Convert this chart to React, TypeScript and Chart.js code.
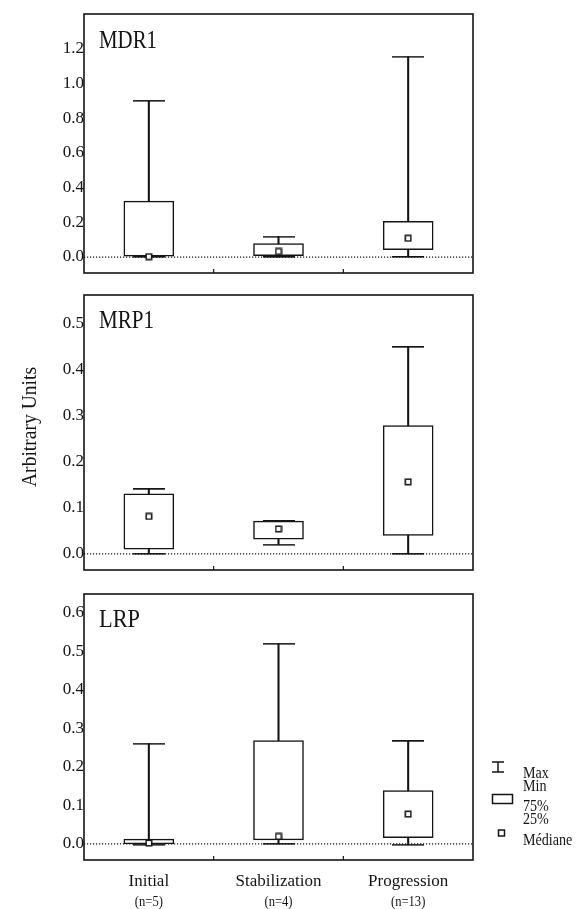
import React, { useEffect, useRef } from 'react';
import { Chart, registerables } from 'chart.js';

Chart.register(...registerables);

const CATEGORIES = ['Initial', 'Stabilization', 'Progression'];
const GROUP_SIZES = ['(n=5)', '(n=4)', '(n=13)'];

const MDR1_MIN = [0, 0, 0];
const MDR1_Q1 = [0.005, 0.008, 0.042];
const MDR1_MEDIAN = [0.002, 0.032, 0.108];
const MDR1_Q3 = [0.322, 0.078, 0.205];
const MDR1_MAX = [0.9, 0.118, 1.155];
const MDR1_TICKS = [0, 0.2, 0.4, 0.6, 0.8, 1.0, 1.2];

const MRP1_MIN = [0, 0.02, 0];
const MRP1_Q1 = [0.01, 0.032, 0.04];
const MRP1_MEDIAN = [0.081, 0.054, 0.156];
const MRP1_Q3 = [0.13, 0.071, 0.278];
const MRP1_MAX = [0.14, 0.071, 0.448];
const MRP1_TICKS = [0, 0.1, 0.2, 0.3, 0.4, 0.5];

const LRP_MIN = [-0.002, 0, -0.002];
const LRP_Q1 = [0, 0.01, 0.016];
const LRP_MEDIAN = [0.002, 0.019, 0.077];
const LRP_Q3 = [0.012, 0.268, 0.138];
const LRP_MAX = [0.26, 0.519, 0.266];
const LRP_TICKS = [0, 0.1, 0.2, 0.3, 0.4, 0.5, 0.6];

const Y_TITLE = 'Arbitrary Units';
const LEGEND_LABELS = ['Max', 'Min', '75%', '25%', 'Médiane'];

const INK = '#141414';
const FONT = '"Liberation Serif", "Times New Roman", serif';

type Panel = {
  label: string;
  min: number[]; q1: number[]; med: number[]; q3: number[]; max: number[];
  ticks: number[]; yMin: number; yMax: number;
  top: number; height: number; padTop: number; padBottom: number;
  showX: boolean; labelBaseline: number; labelWidth: number;
  yTitle?: boolean; legend?: boolean;
};

const PANELS: Panel[] = [
  { label: 'MDR1', min: MDR1_MIN, q1: MDR1_Q1, med: MDR1_MEDIAN, q3: MDR1_Q3, max: MDR1_MAX,
    ticks: MDR1_TICKS, yMin: -0.092, yMax: 1.40, top: 0, height: 290, padTop: 14, padBottom: 17,
    showX: false, labelBaseline: 48, labelWidth: 58 },
  { label: 'MRP1', min: MRP1_MIN, q1: MRP1_Q1, med: MRP1_MEDIAN, q3: MRP1_Q3, max: MRP1_MAX,
    ticks: MRP1_TICKS, yMin: -0.035, yMax: 0.561, top: 285, height: 290, padTop: 10, padBottom: 5,
    showX: false, labelBaseline: 43, labelWidth: 55, yTitle: true },
  { label: 'LRP', min: LRP_MIN, q1: LRP_Q1, med: LRP_MEDIAN, q3: LRP_Q3, max: LRP_MAX,
    ticks: LRP_TICKS, yMin: -0.042, yMax: 0.648, top: 580, height: 329, padTop: 14, padBottom: 9,
    showX: true, labelBaseline: 47, labelWidth: 41, legend: true },
];

function makeCapImage() {
  const c = document.createElement('canvas');
  c.width = 32; c.height = 2;
  const g = c.getContext('2d')!;
  g.fillStyle = INK;
  g.fillRect(0, 0, 32, 1.6);
  return c;
}

function makeMedianImage() {
  const c = document.createElement('canvas');
  c.width = 8; c.height = 8;
  const g = c.getContext('2d')!;
  g.fillStyle = '#ffffff';
  g.fillRect(1, 1, 6, 6);
  g.strokeStyle = INK;
  g.lineWidth = 1.5;
  g.strokeRect(1.25, 1.25, 5.5, 5.5);
  return c;
}

function drawText(ctx: CanvasRenderingContext2D, text: string, x: number, y: number, size: number,
  sx: number, align: CanvasTextAlign, baseline: CanvasTextBaseline = 'alphabetic', rot = 0) {
  ctx.save();
  ctx.font = `${size}px ${FONT}`;
  ctx.fillStyle = INK;
  ctx.textAlign = align;
  ctx.textBaseline = baseline;
  ctx.translate(x, y);
  if (rot) ctx.rotate(rot);
  ctx.scale(sx, 1);
  ctx.fillText(text, 0, 0);
  ctx.restore();
}

function fitScale(ctx: CanvasRenderingContext2D, text: string, size: number, width: number) {
  ctx.save();
  ctx.font = `${size}px ${FONT}`;
  const w = ctx.measureText(text).width;
  ctx.restore();
  return w > 0 ? width / w : 1;
}

function makePlugin(p: Panel) {
  return {
    id: 'panelDecor',
    beforeDatasetsDraw(chart: any) {
      const { ctx, chartArea: a, scales } = chart;
      const y0 = scales.y.getPixelForValue(0);
      ctx.save();
      ctx.strokeStyle = INK;
      ctx.lineWidth = 1.2;
      ctx.setLineDash([1.2, 1.8]);
      ctx.beginPath();
      ctx.moveTo(a.left, y0);
      ctx.lineTo(a.right, y0);
      ctx.stroke();
      ctx.restore();
    },
    afterDraw(chart: any) {
      const { ctx, chartArea: a, scales } = chart;
      ctx.save();
      ctx.strokeStyle = INK;
      ctx.lineWidth = 1.6;
      ctx.strokeRect(a.left, a.top, a.right - a.left, a.bottom - a.top);
      ctx.lineWidth = 1.2;
      for (let i = 0; i < CATEGORIES.length - 1; i++) {
        const x = scales.x.getPixelForValue(i + 0.5);
        ctx.beginPath();
        ctx.moveTo(x, a.bottom);
        ctx.lineTo(x, a.bottom - 4);
        ctx.stroke();
      }
      ctx.restore();

      const sx = fitScale(ctx, p.label, 26, p.labelWidth);
      drawText(ctx, p.label, a.left + 15, p.labelBaseline, 26, sx, 'left');

      if (p.yTitle) {
        const s = fitScale(ctx, Y_TITLE, 22, 120);
        drawText(ctx, Y_TITLE, 30, 427 - p.top, 22, s, 'center', 'middle', -Math.PI / 2);
      }

      if (p.showX) {
        GROUP_SIZES.forEach((t, i) => {
          const x = scales.x.getPixelForValue(i);
          drawText(ctx, t, x, 902 - p.top, 14, 0.9, 'center', 'middle');
        });
      }

      if (p.legend) {
        const o = p.top;
        ctx.save();
        ctx.strokeStyle = INK;
        ctx.lineWidth = 1.5;
        ctx.beginPath();
        ctx.moveTo(492, 762 - o); ctx.lineTo(504, 762 - o);
        ctx.moveTo(498, 762 - o); ctx.lineTo(498, 772 - o);
        ctx.moveTo(492, 772 - o); ctx.lineTo(504, 772 - o);
        ctx.stroke();
        ctx.strokeRect(492.5, 794.5 - o, 20, 9);
        ctx.fillStyle = '#fff';
        ctx.fillRect(498.5, 830 - o, 6, 6);
        ctx.strokeRect(498.5, 830 - o, 6, 6);
        ctx.restore();
        const baselines = [778, 791, 811, 824, 845];
        LEGEND_LABELS.forEach((t, i) => {
          drawText(ctx, t, 523, baselines[i] - o, 16, 0.88, 'left');
        });
      }
    },
  };
}

function buildConfig(p: Panel, capImg: HTMLCanvasElement, medImg: HTMLCanvasElement): any {
  const boxes = p.q1.map((v, i) => [v, p.q3[i]]);
  const whiskers = p.min.map((v, i) => [v, p.max[i]]);
  return {
    type: 'bar',
    data: {
      labels: CATEGORIES,
      datasets: [
        { type: 'bar', data: whiskers, backgroundColor: INK, borderWidth: 0,
          barThickness: 1.4, grouped: false, order: 3 },
        { type: 'bar', data: boxes, backgroundColor: '#ffffff', borderColor: INK, borderWidth: 1.5,
          borderSkipped: false, barThickness: 50, grouped: false, order: 2 },
        { type: 'line', data: p.max, showLine: false, pointStyle: capImg, pointRadius: 1,
          pointHoverRadius: 1, pointBorderWidth: 0, borderWidth: 0, order: 1, clip: false },
        { type: 'line', data: p.min, showLine: false, pointStyle: capImg, pointRadius: 1,
          pointHoverRadius: 1, pointBorderWidth: 0, borderWidth: 0, order: 1, clip: false },
        { type: 'line', data: p.med, showLine: false, pointStyle: medImg, pointRadius: 1,
          pointHoverRadius: 1, pointBorderWidth: 0, borderWidth: 0, order: 0, clip: false },
      ],
    },
    options: {
      responsive: false,
      maintainAspectRatio: false,
      animation: false,
      events: [],
      layout: { padding: { left: 0, right: 587 - 473, top: p.padTop, bottom: p.padBottom } },
      plugins: { legend: { display: false }, tooltip: { enabled: false }, title: { display: false } },
      scales: {
        x: {
          type: 'category',
          display: p.showX,
          offset: true,
          grid: { display: false, drawTicks: false },
          border: { display: false },
          ticks: { color: INK, font: { family: FONT, size: 17 }, padding: 11, maxRotation: 0 },
          afterFit: (s: any) => {
            s.height = p.showX ? 40 : 0;
            s.paddingLeft = 0; s.paddingRight = 0; s.paddingTop = 0; s.paddingBottom = 0;
          },
        },
        y: {
          type: 'linear',
          min: p.yMin,
          max: p.yMax,
          grid: { display: false, drawTicks: false },
          border: { display: false },
          ticks: {
            color: INK, font: { family: FONT, size: 17 }, padding: 0,
            callback: (v: any) => Number(v).toFixed(1),
          },
          afterBuildTicks: (s: any) => { s.ticks = p.ticks.map((v) => ({ value: v })); },
          afterFit: (s: any) => {
            s.width = 84;
            s.paddingLeft = 0; s.paddingRight = 0; s.paddingTop = 0; s.paddingBottom = 0;
          },
        },
      },
    },
    plugins: [makePlugin(p)],
  };
}

export default function App() {
  const r0 = useRef<HTMLCanvasElement>(null);
  const r1 = useRef<HTMLCanvasElement>(null);
  const r2 = useRef<HTMLCanvasElement>(null);
  const refs = [r0, r1, r2];

  useEffect(() => {
    Chart.defaults.font.family = FONT;
    Chart.defaults.color = INK;
    const capImg = makeCapImage();
    const medImg = makeMedianImage();
    const charts = PANELS.map((p, i) =>
      new Chart(refs[i].current as HTMLCanvasElement, buildConfig(p, capImg, medImg)));
    return () => charts.forEach((c) => c.destroy());
  }, []);

  return (
    <div style={{ position: 'absolute', left: 0, top: 0, width: 587, height: 909, background: '#fff', overflow: 'hidden' }}>
      {PANELS.map((p, i) => (
        <canvas
          key={p.label}
          ref={refs[i]}
          width={587}
          height={p.height}
          style={{ position: 'absolute', left: 0, top: p.top, width: 587, height: p.height }}
        />
      ))}
    </div>
  );
}
